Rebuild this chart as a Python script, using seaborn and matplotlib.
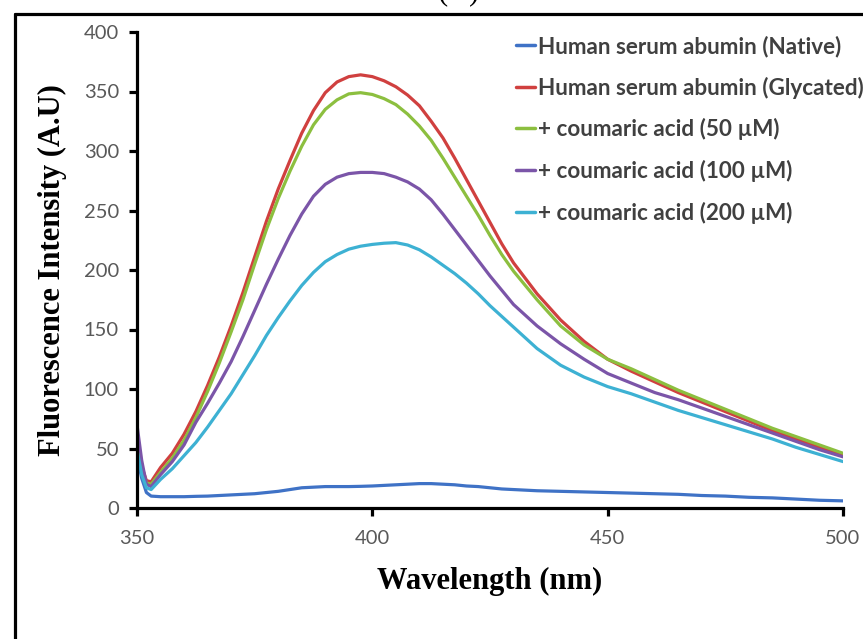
import pandas as pd
import numpy as np
import matplotlib
matplotlib.use("Agg")
import matplotlib.pyplot as plt
import seaborn as sns
from matplotlib.lines import Line2D

# wavelength grid (nm)
wavelength = [350, 351, 352, 353, 355, 357.5, 360, 362.5, 365, 367.5, 370, 372.5, 375, 377.5,
              380, 382.5, 385, 387.5, 390, 392.5, 395, 397.5, 400, 402.5, 405, 407.5, 410,
              412.5, 415, 417.5, 420, 422.5, 425, 427.5, 430, 435, 440, 445, 450, 455, 460,
              465, 470, 475, 480, 485, 490, 495, 500]

native = [45, 25, 13, 10, 9.5, 9.5, 9.5, 9.8, 10, 10.5, 11, 11.5, 12, 13,
          14, 15.5, 17, 17.5, 18, 18, 18, 18.2, 18.5, 19, 19.5, 20, 20.5,
          20.5, 20, 19.5, 18.5, 18, 17, 16, 15.5, 14.5, 14, 13.5, 13, 12.5, 12,
          11.5, 10.5, 10, 9, 8.5, 7.5, 6.5, 6]

glycated = [52, 35, 23, 22, 34, 46, 62, 81, 103, 127, 153, 181, 211, 241,
            268, 292, 315, 334, 349, 358, 362.5, 364, 362.5, 359, 354, 347, 338,
            325, 311, 294, 276, 258, 240, 222, 206, 180, 158, 140, 125, 115, 106,
            97, 89, 81, 73, 65, 58, 51, 44]

ca_50 = [52, 33, 21, 20, 30, 42, 57, 76, 98, 122, 148, 175, 205, 234,
         260, 283, 304, 322, 335, 343, 348, 349, 347.5, 344, 339, 331, 321,
         309, 294, 278, 262, 246, 229, 213, 199, 175, 153, 137, 125, 117, 108,
         99, 91, 83, 75, 67, 60, 53, 46]

ca_100 = [70, 40, 20, 18, 28, 39, 53, 72, 88, 105, 123, 144, 166, 188,
          209, 229, 247, 262, 272, 278, 281, 282, 282, 281, 278, 274, 268,
          259, 247, 234, 221, 208, 195, 183, 171, 153, 138, 125, 113, 105, 97,
          91, 84, 77, 70, 63, 56, 49, 43]

ca_200 = [49, 28, 17, 15.5, 24, 33, 44, 55, 68, 82, 96, 112, 128, 145,
          160, 174, 187, 198, 207, 213, 217.5, 220, 221.5, 222.5, 223, 221, 217,
          211, 204, 197, 189, 180, 170, 161, 152, 134, 120, 110, 102, 96, 89,
          82, 76, 70, 64, 58, 51, 45, 39]

labels = ["Human serum abumin (Native)", "Human serum abumin (Glycated)",
          "+ coumaric acid (50 \u00b5M)", "+ coumaric acid (100 \u00b5M)",
          "+ coumaric acid (200 \u00b5M)"]
colors = ["#3F72C6", "#D0403F", "#8CBF3F", "#7B55A8", "#3DB1D3"]
series = [native, glycated, ca_50, ca_100, ca_200]

frames = []
for lab, vals in zip(labels, series):
    frames.append(pd.DataFrame({"wl": wavelength, "fi": vals, "sample": lab}))
data = pd.concat(frames, ignore_index=True)

sns.set_style("white")
plt.rcParams["font.family"] = ["Lato", "DejaVu Sans"]

fig = plt.figure(figsize=(8.63, 6.39), dpi=100)
ax = fig.add_axes([137/863, 1-508/639, (843-137)/863, (508-32)/639])

sns.lineplot(data=data, x="wl", y="fi", hue="sample", hue_order=labels,
             palette=dict(zip(labels, colors)), linewidth=2.3, ax=ax, legend=False)

ax.set_xlim(350, 500)
ax.set_ylim(0, 400)
ax.set_xticks([350, 400, 450, 500])
ax.set_yticks(np.arange(0, 401, 50))
for s in ["top", "right"]:
    ax.spines[s].set_visible(False)
for s in ["left", "bottom"]:
    ax.spines[s].set_color("black")
    ax.spines[s].set_linewidth(2.3)
ax.tick_params(axis="both", direction="out", length=6, width=2.3, color="black",
               labelsize=14.5, labelcolor="#595959", left=True, bottom=True)
ax.tick_params(axis="x", pad=10)
ax.tick_params(axis="y", pad=7)

ax.set_xlabel("Wavelength (nm)", fontfamily="Liberation Serif", fontweight="bold",
              fontsize=22, color="black", labelpad=14)
ax.set_ylabel("Fluorescence Intensity (A.U)", fontfamily="Liberation Serif",
              fontweight="bold", fontsize=22, color="black", labelpad=12)

handles = [Line2D([], [], color=c, linewidth=2.5) for c in colors]
leg = fig.legend(handles, labels, loc="upper left", bbox_to_anchor=(505/863, 1-24/639),
                 frameon=False, handlelength=0.85, handletextpad=0.12, borderpad=0,
                 labelspacing=0.87, prop={"family": "Lato", "weight": "bold", "size": 16.2})
for t in leg.get_texts():
    t.set_color("#404040")

# outer frame (left and top edges visible)
fig.add_artist(Line2D([15/863, 15/863], [0, 1-14/639], color="black", linewidth=2.3,
                      transform=fig.transFigure))
fig.add_artist(Line2D([15/863, 1], [1-14/639, 1-14/639], color="black", linewidth=2.3,
                      transform=fig.transFigure))
fig.text(459/863, 1+1/639, "(A)", ha="center", va="baseline", fontsize=22,
         fontfamily="Liberation Serif", color="black")

fig.savefig("out.png", dpi=100)
